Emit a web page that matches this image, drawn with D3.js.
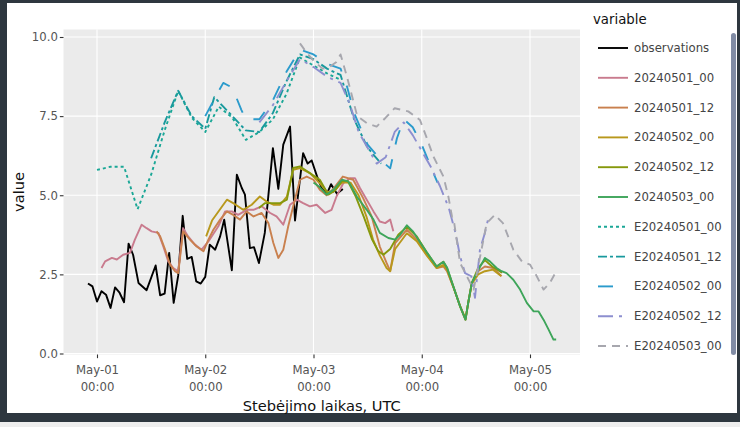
<!DOCTYPE html>
<html>
<head>
<meta charset="utf-8">
<script src="https://cdn.jsdelivr.net/npm/d3@7"></script>
<style>
  html, body { margin: 0; padding: 0; background: #ffffff; }
  svg { display: block; font-family: "DejaVu Sans", Verdana, sans-serif; }
</style>
</head>
<body>
<svg id="chart" width="740" height="427"></svg>
<script>
// Wind speed: observations vs. deterministic and ensemble forecast runs.
// Each series is a list of [hours since 2024-05-01 00:00 UTC, value].

const seriesNames = [
  "observations", "20240501_00", "20240501_12", "20240502_00", "20240502_12", "20240503_00",
  "E20240501_00", "E20240501_12", "E20240502_00", "E20240502_12", "E20240503_00"
];

const observations = [
  [-2, 2.21], [-1, 2.12], [0, 1.64], [1, 1.97], [2, 1.86], [3, 1.44], [4, 2.09], [5, 1.92],
  [6, 1.62], [7, 3.47], [8, 3.12], [9.2, 2.23], [11, 2.0], [13, 2.78], [14, 1.84], [15, 1.89],
  [16, 3.18], [17, 1.6], [18, 2.46], [19, 4.35], [20, 2.99], [21, 3.05], [22, 2.28], [23, 2.21],
  [24, 2.42], [25, 3.44], [26.2, 3.28], [27.3, 3.7], [28.2, 4.23], [29.9, 2.63], [31, 5.65],
  [32.1, 5.23], [32.8, 5.02], [33.9, 3.33], [34.8, 3.36], [35.9, 2.86], [37.2, 3.81], [39, 6.49],
  [40.2, 5.2], [41.3, 6.6], [42.8, 7.17], [43.9, 4.2], [45.7, 6.33], [46.7, 6.0], [47.6, 6.1],
  [48.8, 5.59], [49.9, 5.2], [51, 5.05], [51.9, 5.35], [53.2, 5.05], [54.5, 5.2]
];

const run20240501_00 = [
  [1, 2.7], [1.8, 2.91], [3.3, 3.02], [4.4, 2.97], [5.8, 3.12], [7.3, 3.18], [8.4, 3.6], [9.9, 4.07],
  [11, 3.96], [12.1, 3.86], [13.6, 3.81], [14.7, 3.38], [15.8, 2.91], [16.9, 2.7], [18, 2.6],
  [19.1, 3.96], [20.2, 3.7], [21.7, 3.44], [23.2, 3.28], [24.7, 3.54], [26.9, 4.02], [28.4, 4.49],
  [29.9, 4.49], [31.3, 4.38], [33.2, 4.54], [34.7, 4.54], [36.5, 4.65], [38.4, 4.44], [39.8, 4.33],
  [41.3, 4.07], [42.8, 4.7], [44.3, 4.86], [45.7, 4.75], [47.2, 4.65], [48.7, 4.7], [50.6, 4.44],
  [52, 4.54], [53.1, 4.96], [54.6, 5.38], [56.1, 5.54], [57.2, 5.54], [58.3, 5.23], [59.8, 4.86],
  [61.3, 4.49], [62.7, 4.17], [63.9, 4.12], [65, 4.23], [65.7, 3.86]
];

const run20240501_12 = [
  [13.2, 3.86], [14, 3.7], [15.1, 3.28], [16.2, 2.81], [17.3, 2.6], [18, 2.54], [19.1, 3.86],
  [20.6, 3.6], [22.1, 3.38], [23.6, 3.23], [24.7, 3.6], [25.8, 3.91], [27.3, 4.23], [28.8, 4.49],
  [30.2, 4.38], [31.7, 4.23], [33.2, 4.49], [34.7, 4.33], [36.5, 4.44], [38, 4.12], [39.1, 3.49],
  [40.2, 3.02], [41.3, 3.28], [42.4, 4.02], [43.5, 4.65], [45, 5.49], [46.5, 5.59], [48, 5.49],
  [49.4, 5.17], [50.9, 5.0], [52.4, 5.2], [54.5, 5.59], [56.8, 5.49], [59, 4.91], [60.9, 4.33],
  [62.7, 3.38], [64.2, 2.86], [65, 2.6], [66.1, 3.49], [68.7, 3.91], [70.9, 3.6], [73.1, 3.12],
  [75.3, 2.7], [76.8, 2.75], [77.6, 2.6], [79, 2.1], [80.5, 1.5], [81.7, 1.07], [82.3, 1.6],
  [83.1, 2.23], [84.5, 2.6], [86, 2.75], [87.8, 2.7], [89.7, 2.44]
];

const run20240502_00 = [
  [24.2, 3.7], [25.5, 4.2], [28.8, 4.86], [30.2, 4.75], [32.4, 4.54], [34.3, 4.7], [36.1, 4.96],
  [37.6, 4.8], [39.1, 4.7], [40.6, 4.7], [42.1, 4.96], [43.5, 5.8], [45, 5.86], [47.2, 5.7],
  [49.4, 5.38], [50.9, 5.12], [52.3, 5.1], [54.3, 5.4], [56.2, 5.4], [58, 5.0], [59.8, 4.3],
  [61.2, 3.6], [62.7, 3.1], [64.2, 2.7], [65, 2.6], [66.1, 3.3], [68.7, 3.8], [70.9, 3.55],
  [73.1, 3.1], [75.3, 2.7], [76.8, 2.8], [77.6, 2.65], [79, 2.1], [80.5, 1.5], [81.7, 1.1],
  [82.3, 1.6], [83.1, 2.2], [84.5, 2.5], [86, 2.6], [87.8, 2.65], [89.6, 2.45]
];

const run20240502_12 = [
  [35.9, 4.6], [37.2, 4.75], [38.7, 4.75], [40.6, 4.75], [42.1, 4.86], [43.5, 5.86], [45, 5.91],
  [47.2, 5.7], [49.4, 5.49], [51.3, 5.02], [52.8, 5.15], [54.3, 5.45], [55.6, 5.45], [57.4, 4.95],
  [59.2, 4.3], [61, 3.6], [62.3, 3.25], [63.5, 3.12], [65, 3.3], [66.8, 3.75], [68.7, 4.0],
  [70.9, 3.7], [73.1, 3.2], [75.3, 2.75], [76.8, 2.9], [77.6, 2.7], [79, 2.12], [80.5, 1.49],
  [81.7, 1.07], [82.3, 1.6], [83.1, 2.23], [84.5, 2.7], [86, 2.95], [87.6, 2.75], [89.8, 2.55]
];

const run20240503_00 = [
  [48, 5.4], [49.4, 5.25], [50.9, 5.02], [52.4, 5.17], [54.3, 5.49], [55.7, 5.44], [57.6, 4.96],
  [59.8, 4.54], [61.3, 4.23], [62.7, 3.81], [64.6, 3.65], [66.1, 3.6], [67.2, 3.75], [68.7, 4.05],
  [70.1, 3.85], [71.7, 3.5], [73.1, 3.2], [75.3, 2.75], [76.8, 2.9], [77.6, 2.72], [79, 2.12],
  [80.5, 1.49], [81.7, 1.07], [82.3, 1.6], [83.1, 2.23], [84.6, 2.65], [86, 3.02], [87.1, 2.91],
  [88.6, 2.7], [89.7, 2.6], [90.8, 2.54], [92.3, 2.33], [93.8, 2.02], [95.3, 1.6], [96.8, 1.33],
  [97.9, 1.33], [99, 1.07], [100.1, 0.76], [101.2, 0.44], [101.8, 0.44]
];

const ens20240501_00 = [
  [0, 5.8], [3, 5.9], [6, 5.9], [9, 4.56], [12, 5.65], [15, 7.05], [18, 8.3], [21, 7.45],
  [24, 7.0], [27, 7.8], [30, 7.45], [33, 6.75], [36, 7.0], [39, 7.4], [42, 8.2], [45, 9.35],
  [48, 9.1], [51, 8.85], [54, 8.65]
];

const ens20240501_12 = [
  [12, 6.17], [15, 7.3], [18, 8.3], [21, 7.5], [24, 7.1], [26, 8.1], [28, 7.8], [30, 7.5],
  [33, 7.05], [36, 7.0], [39, 7.6], [42, 8.6], [45, 9.45], [48, 9.3], [51, 9.0], [54, 8.8],
  [57, 7.4], [60, 6.5], [63, 6.0]
];

const ens20240502_00 = [
  [24, 7.5], [27, 8.3], [28, 8.55], [30, 8.4], [32, 7.7], [33, 7.4], [36, 7.4], [39, 8.0],
  [42, 8.9], [45, 9.6], [48, 9.45], [51, 9.15], [54, 9.0], [55.5, 8.4], [57, 7.6], [60, 6.6],
  [63, 6.1], [65, 5.85], [66.5, 6.8], [68, 7.4], [70, 7.15], [72, 6.6], [74, 5.9], [75.5, 5.4]
];

const ens20240502_12 = [
  [36, 7.3], [39, 7.85], [42, 8.6], [45, 9.3], [48, 9.05], [51, 8.75], [54, 8.55], [56, 7.9],
  [58, 7.0], [60, 6.5], [62, 6.0], [64, 6.2], [66, 7.0], [68, 7.3], [70, 6.9], [72, 6.4],
  [74, 5.9], [76, 5.3], [78, 4.6], [79.5, 3.8], [80.5, 3.07], [81.6, 2.54], [83, 2.44],
  [83.8, 1.76], [84.9, 3.28], [86, 3.81], [86.8, 4.3]
];

const ens20240503_00 = [
  [45, 9.8], [46.5, 9.5], [48, 9.25], [50, 9.0], [51.5, 9.05], [53, 9.2], [54, 9.45], [55.5, 8.7],
  [57.7, 7.5], [59.8, 7.28], [62, 7.17], [64, 7.45], [66, 7.75], [69, 7.65], [71.6, 7.38],
  [73, 6.85], [74.6, 6.22], [76.8, 5.59], [77.9, 4.96], [78.7, 4.33], [79.2, 4.12], [80.5, 2.86],
  [82, 2.44], [83.5, 2.02], [86.4, 4.12], [88.2, 4.38], [90, 4.12], [92.3, 3.28], [94.2, 2.91],
  [96, 2.81], [97.5, 2.44], [99, 2.02], [100.4, 2.23], [101.6, 2.54]
];

const seriesData = [
  observations, run20240501_00, run20240501_12, run20240502_00, run20240502_12, run20240503_00,
  ens20240501_00, ens20240501_12, ens20240502_00, ens20240502_12, ens20240503_00
];

const tickDays = ["2024-05-01", "2024-05-02", "2024-05-03", "2024-05-04", "2024-05-05"];
const yTicks = [0, 2.5, 5, 7.5, 10];

// Line styles per series
const seriesColors = [
  "#000000", "#c97b8e", "#c9804e", "#b8981c", "#86980c", "#3ea55a",
  "#1aa796", "#18999d", "#2b9bcc", "#8d8fcf", "#a7a7ae"
];
const seriesDash = [
  null, null, null, null, null, null,
  "3,3", "9,3,3,3", "15,15", "15,6,3,6", "8,6"
];

const startTime = Date.UTC(2024, 4, 1, 0, 0);
const toDate = h => new Date(startTime + h * 3600 * 1000);

const svg = d3.select("#chart");
const W = 740, H = 427;

// Frame
svg.append("rect").attr("width", W).attr("height", H).attr("fill", "#2e373f");
svg.append("rect").attr("x", 0).attr("y", 422).attr("width", W).attr("height", 5).attr("fill", "#eeeeee");
svg.append("rect").attr("x", 7).attr("y", 3).attr("width", 730).attr("height", 410).attr("fill", "#ffffff");

const panel = { left: 63.5, right: 580, top: 29.5, bottom: 354.5 };

const x = d3.scaleUtc()
  .domain([new Date(tickDays[0] + "T00:00:00Z"), new Date(tickDays[4] + "T00:00:00Z")])
  .range([97, 530]);
const y = d3.scaleLinear().domain([0, 10]).range([353.5, 37]);

svg.append("rect")
  .attr("x", panel.left).attr("y", panel.top)
  .attr("width", panel.right - panel.left).attr("height", panel.bottom - panel.top)
  .attr("fill", "#ebebeb");

const tickDates = tickDays.map(d => new Date(d + "T00:00:00Z"));

// Grid
const grid = svg.append("g");
grid.selectAll("line.gx").data(tickDates).join("line")
  .attr("x1", d => x(d)).attr("x2", d => x(d))
  .attr("y1", panel.top).attr("y2", panel.bottom)
  .attr("stroke", "#ffffff").attr("stroke-width", 1.1);
grid.selectAll("line.gy").data(yTicks).join("line")
  .attr("x1", panel.left).attr("x2", panel.right)
  .attr("y1", d => y(d)).attr("y2", d => y(d))
  .attr("stroke", "#ffffff").attr("stroke-width", 1.1);

// Series
svg.append("clipPath").attr("id", "panelClip").append("rect")
  .attr("x", panel.left).attr("y", panel.top)
  .attr("width", panel.right - panel.left).attr("height", panel.bottom - panel.top);

const line = d3.line().x(d => x(toDate(d[0]))).y(d => y(d[1]));
const lines = svg.append("g").attr("clip-path", "url(#panelClip)");
seriesData.forEach((data, i) => {
  lines.append("path")
    .datum(data)
    .attr("d", line)
    .attr("fill", "none")
    .attr("stroke", seriesColors[i])
    .attr("stroke-width", 1.9)
    .attr("stroke-linejoin", "round")
    .attr("stroke-dasharray", seriesDash[i]);
});

// Axes
const fmtDay = d3.utcFormat("%b-%d");
const fmtTime = d3.utcFormat("%H:%M");
const tickFont = '"DejaVu Sans", Verdana, sans-serif';

const xAxisG = svg.append("g")
  .attr("transform", `translate(0,${panel.bottom})`)
  .call(d3.axisBottom(x).tickValues(tickDates).tickSize(3.65).tickSizeOuter(0));
xAxisG.select(".domain").remove();
xAxisG.selectAll(".tick line").attr("stroke", "#333333").attr("stroke-width", 1.1);
xAxisG.selectAll(".tick text").each(function (d) {
  const t = d3.select(this).text(null).attr("y", null).attr("dy", null)
    .attr("fill", "#555555").style("font-size", "11.7px").style("font-family", tickFont);
  t.append("tspan").attr("x", 0).attr("y", 19.5).text(fmtDay(d));
  t.append("tspan").attr("x", 0).attr("y", 36.5).text(fmtTime(d));
});

const yAxisG = svg.append("g")
  .attr("transform", `translate(${panel.left},0)`)
  .call(d3.axisLeft(y).tickValues(yTicks).tickFormat(d3.format(".1f")).tickSize(3.65).tickPadding(2).tickSizeOuter(0));
yAxisG.select(".domain").remove();
yAxisG.selectAll(".tick line").attr("stroke", "#333333").attr("stroke-width", 1.1);
yAxisG.selectAll(".tick text")
  .attr("fill", "#555555").style("font-size", "11.7px").style("font-family", tickFont);

// Axis titles
svg.append("text")
  .attr("x", (panel.left + panel.right) / 2).attr("y", 411)
  .attr("text-anchor", "middle")
  .style("font-size", "14.6px").attr("fill", "#111111")
  .text("Stebėjimo laikas, UTC");

svg.append("text")
  .attr("transform", `translate(24,${(panel.top + panel.bottom) / 2}) rotate(-90)`)
  .attr("text-anchor", "middle")
  .style("font-size", "14.6px").attr("fill", "#111111")
  .text("value");

// Legend
const legend = svg.append("g");
legend.append("text")
  .attr("x", 593).attr("y", 24)
  .style("font-size", "13.3px").attr("fill", "#111111")
  .text("variable");

const legendY = d3.scalePoint().domain(seriesNames).range([48, 346]);
const items = legend.selectAll("g.item").data(seriesNames).join("g")
  .attr("transform", d => `translate(0,${legendY(d)})`);
items.append("line")
  .attr("x1", 598).attr("x2", 628).attr("y1", 0).attr("y2", 0)
  .attr("stroke", (d, i) => seriesColors[i])
  .attr("stroke-width", 1.9)
  .attr("stroke-dasharray", (d, i) => seriesDash[i]);
items.append("text")
  .attr("x", 634).attr("y", 4)
  .style("font-size", "11.7px").attr("fill", "#444444")
  .text(d => d);

// Legend scrollbar
legend.append("rect")
  .attr("x", 731).attr("y", 33).attr("width", 5).attr("height", 322)
  .attr("rx", 2.5).attr("fill", "#808ba4");
</script>
</body>
</html>
